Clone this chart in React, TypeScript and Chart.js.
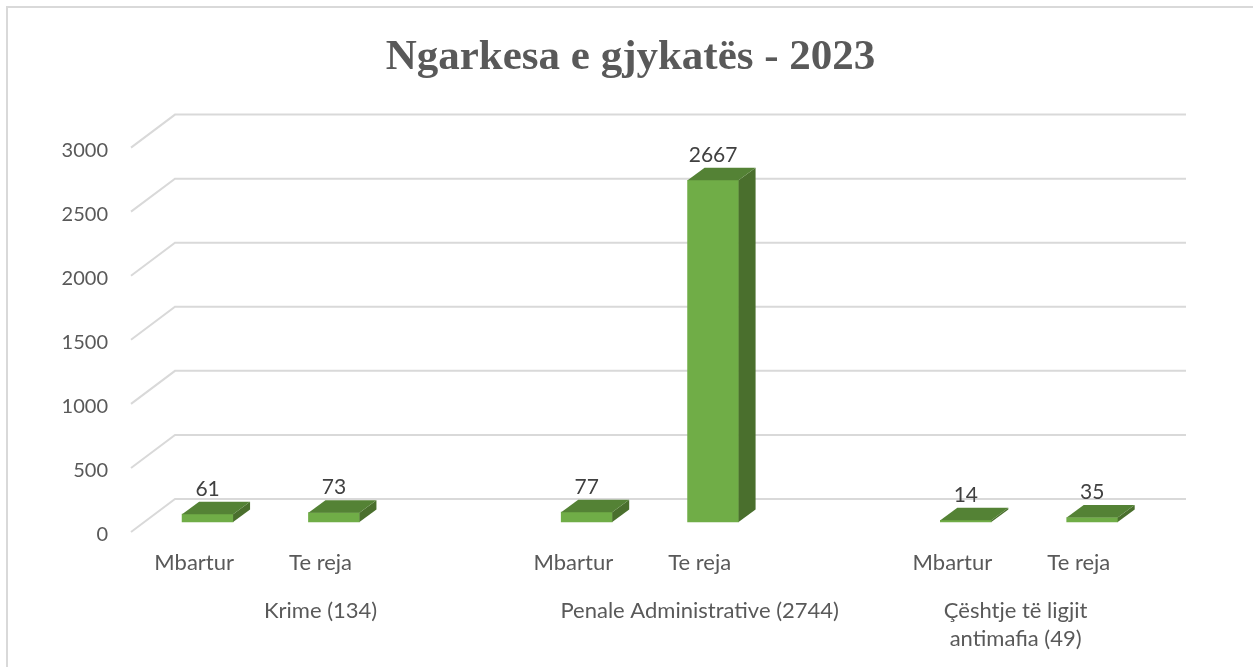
import React, { useEffect, useRef } from "react";
import { Chart, registerables } from "chart.js";

Chart.register(...registerables);

const TITLE = "Ngarkesa e gjykatës - 2023";
// A blank slot separates the groups, as in the original spreadsheet layout.
const categories = ["Mbartur", "Te reja", "", "Mbartur", "Te reja", "", "Mbartur", "Te reja"];
const values: (number | null)[] = [61, 73, null, 77, 2667, null, 14, 35];
const groupLabels: (string | string[])[] = ["Krime (134)", "Penale Administrative (2744)", ["Çështje të ligjit", "antimafia (49)"]];
const groupSlots = [3, 3, 2];
const yTicks = [0, 500, 1000, 1500, 2000, 2500, 3000];

const WALL_DX = 44;
const WALL_DY = -33;
const BAR_DX = 17;
const BAR_DY = -12.5;
const BAR_SHIFT_SLOTS = 0.106;
const BAR_SHIFT_VALUE = 78;
const LABEL_SHIFT_VALUE = 22;
const FONT = "Lato";

const groupCenters: number[] = [];
{
  let start = -0.5;
  for (const n of groupSlots) {
    groupCenters.push(start + n / 2);
    start += n;
  }
}

const walls = {
  id: "walls",
  beforeDatasetsDraw(chart: any) {
    const { ctx, scales, chartArea } = chart;
    ctx.save();
    ctx.strokeStyle = "#d9d9d9";
    ctx.lineWidth = 2;
    for (const v of yTicks) {
      const y = scales.y.getPixelForValue(v);
      ctx.beginPath();
      ctx.moveTo(chartArea.left, y);
      ctx.lineTo(chartArea.left + WALL_DX, y + WALL_DY);
      ctx.lineTo(chartArea.right + WALL_DX, y + WALL_DY);
      ctx.stroke();
    }
    ctx.restore();
  },
};

const bars3d = {
  id: "bars3d",
  afterDatasetsDraw(chart: any) {
    const { ctx } = chart;
    const meta = chart.getDatasetMeta(0);
    ctx.save();
    meta.data.forEach((bar: any, i: number) => {
      const { x, y, base, width } = bar.getProps(["x", "y", "base", "width"], true);
      const l = x - width / 2;
      const r = x + width / 2;
      ctx.fillStyle = "#4a6f2d";
      ctx.beginPath();
      ctx.moveTo(r, y);
      ctx.lineTo(r + BAR_DX, y + BAR_DY);
      ctx.lineTo(r + BAR_DX, base + BAR_DY);
      ctx.lineTo(r, base);
      ctx.closePath();
      ctx.fill();
      ctx.fillStyle = "#548235";
      ctx.beginPath();
      ctx.moveTo(l, y);
      ctx.lineTo(l + BAR_DX, y + BAR_DY);
      ctx.lineTo(r + BAR_DX, y + BAR_DY);
      ctx.lineTo(r, y);
      ctx.closePath();
      ctx.fill();
      ctx.fillStyle = "#404040";
      ctx.font = `21px ${FONT}`;
      ctx.textAlign = "center";
      ctx.textBaseline = "middle";
      const value = (chart.data.datasets[0].data[i] as any).y;
      ctx.fillText(String(value), x, y - 25);
    });
    ctx.restore();
  },
};

export default function App() {
  const ref = useRef<HTMLCanvasElement>(null);
  useEffect(() => {
    const points = categories
      .map((_, i) => ({ x: i, y: values[i] }))
      .filter((p) => p.y !== null);
    const chart = new Chart(ref.current!, {
      type: "bar",
      data: {
        labels: categories,
        datasets: [
          {
            data: points as any,
            xAxisID: "xBar",
            yAxisID: "yBar",
            backgroundColor: "#70ad47",
            barThickness: 51,
          },
        ],
      },
      options: {
        responsive: false,
        animation: false,
        plugins: {
          legend: { display: false },
          tooltip: { enabled: false },
          title: {
            display: true,
            text: TITLE,
            color: "#595959",
            font: { family: "Liberation Serif", size: 43, weight: "bold" },
            padding: { top: 24, bottom: 64 },
          },
        },
        scales: {
          x: {
            type: "category",
            offset: true,
            position: "bottom",
            grid: { display: false },
            border: { display: false },
            ticks: {
              color: "#595959",
              font: { family: FONT, size: 22 },
              padding: 10,
              autoSkip: false,
              maxRotation: 0,
            },
            afterFit(s: any) {
              s.height = 50;
            },
          },
          xGroup: {
            type: "linear",
            position: "bottom",
            offset: false,
            min: -0.5,
            max: categories.length - 0.5,
            grid: { display: false },
            border: { display: false },
            afterBuildTicks(s: any) {
              s.ticks = groupCenters.map((value) => ({ value }));
            },
            ticks: {
              color: "#595959",
              font: { family: FONT, size: 22, lineHeight: 1.27 },
              padding: 7,
              autoSkip: false,
              maxRotation: 0,
              callback: (v: any) => groupLabels[groupCenters.indexOf(v)],
            },
            afterFit(s: any) {
              s.height = 85;
            },
          },
          xBar: {
            type: "linear",
            display: false,
            offset: false,
            min: -0.5 - BAR_SHIFT_SLOTS,
            max: categories.length - 0.5 - BAR_SHIFT_SLOTS,
          },
          // Holds the wall gridlines' values.
          y: {
            type: "linear",
            display: false,
            min: 0,
            max: 3000,
          },
          // The visible tick labels sit a little below their gridline starts.
          yLabels: {
            type: "linear",
            position: "left",
            min: LABEL_SHIFT_VALUE,
            max: 3000 + LABEL_SHIFT_VALUE,
            grid: { display: false },
            border: { display: false },
            afterBuildTicks(s: any) {
              s.ticks = yTicks.map((value) => ({ value }));
            },
            ticks: {
              color: "#595959",
              font: { family: FONT, size: 20 },
              padding: 15,
              autoSkip: false,
              callback: (v: any) => String(v),
            },
            afterFit(s: any) {
              s.width = 123;
            },
          },
          yBar: {
            type: "linear",
            display: false,
            min: -BAR_SHIFT_VALUE,
            max: 3000 - BAR_SHIFT_VALUE,
          },
          // Empty strip on the right: keeps the title centred on the whole canvas.
          rightGutter: {
            type: "linear",
            position: "right",
            grid: { display: false },
            border: { display: false },
            ticks: { display: false },
            afterFit(s: any) {
              s.width = 111;
            },
          },
        },
      } as any,
      plugins: [walls, bars3d],
    });
    return () => chart.destroy();
  }, []);
  return (
    <div
      style={{
        position: "absolute",
        left: 6,
        top: 6,
        borderLeft: "2px solid #d9d9d9",
        borderTop: "2px solid #d9d9d9",
      }}
    >
      <canvas ref={ref} width={1245} height={659} style={{ display: "block" }} />
    </div>
  );
}
